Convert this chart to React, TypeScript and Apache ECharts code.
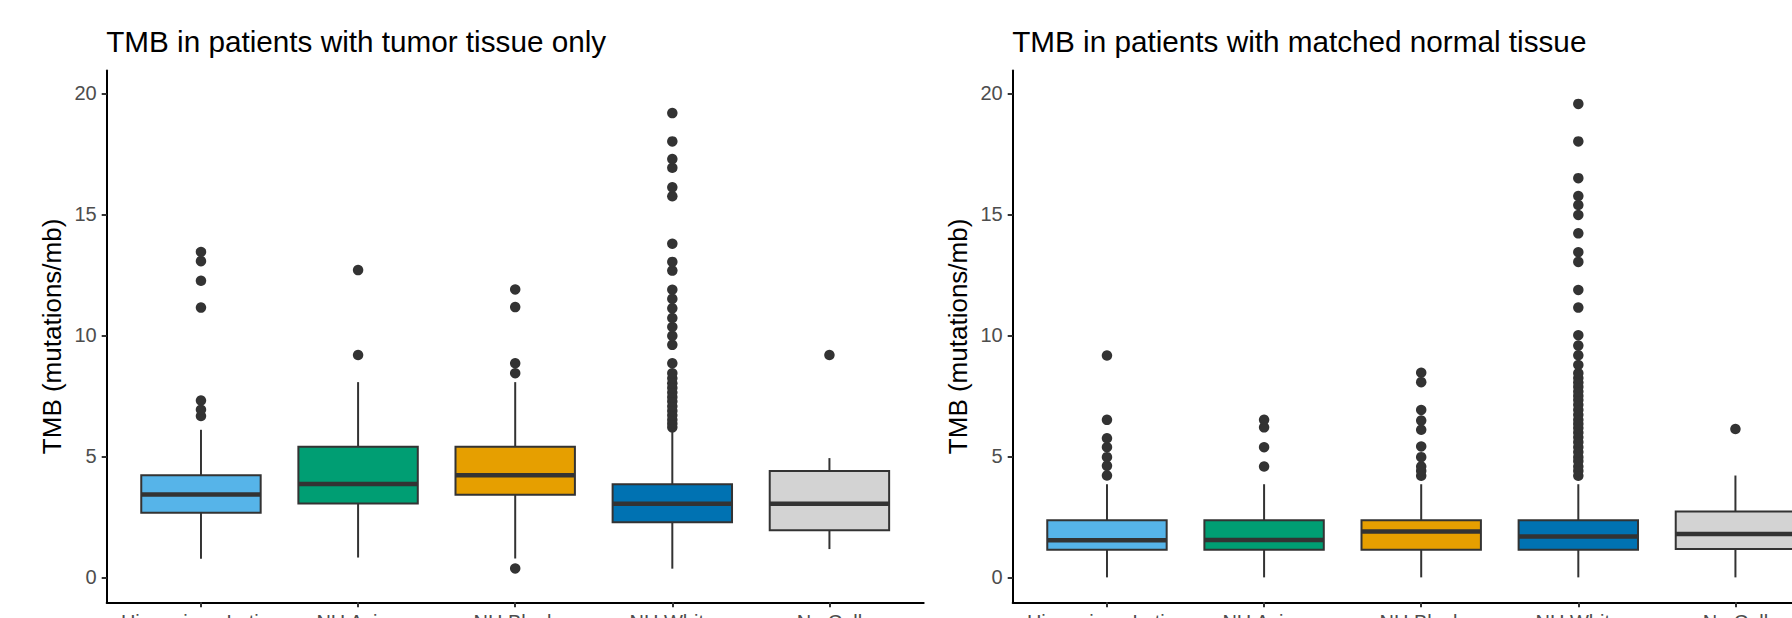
import React, { useEffect, useRef } from "react";
import * as echarts from "echarts";

const categories = ["Hispanic or Latino", "NH Asian", "NH Black", "NH White", "No Coll"];
const fillColors = ["#56B4E9", "#009E73", "#E69F00", "#0072B2", "#D3D3D3"];
const yTicks = [0, 5, 10, 15, 20];
const xTicks = [1, 2, 3, 4, 5];
const panelTitles = ["TMB in patients with tumor tissue only", "TMB in patients with matched normal tissue"];
const yTitle = "TMB (mutations/mb)";

// [lower whisker, q1, median, q3, upper whisker]
const tumorBoxes = [
  [0.77, 2.67, 3.43, 4.22, 6.1],
  [0.82, 3.05, 3.86, 5.4, 8.07],
  [0.78, 3.42, 4.22, 5.4, 8.07],
  [0.36, 2.28, 3.04, 3.85, 6.02],
  [1.17, 1.95, 3.04, 4.4, 4.93],
];
const tumorHispanicOut = [6.67, 6.93, 7.31, 11.15, 12.26, 13.07, 13.45];
const tumorAsianOut = [9.19, 12.7];
const tumorBlackOut = [0.37, 8.44, 8.85, 11.17, 11.9];
const tumorWhiteOut = [6.2, 6.35, 6.51, 6.7, 6.88, 7.07, 7.27, 7.45, 7.64, 7.83, 8.02, 8.23, 8.44, 8.85, 9.61, 9.98, 10.35, 10.72, 11.12, 11.51, 11.89, 12.68, 13.04, 13.79, 15.75, 16.12, 16.93, 17.29, 18.02, 19.19];
const tumorNotCollOut = [9.19];

const normalBoxes = [
  [0, 1.14, 1.53, 2.36, 3.85],
  [0, 1.14, 1.54, 2.36, 3.85],
  [0, 1.14, 1.9, 2.36, 3.85],
  [0, 1.14, 1.69, 2.36, 3.85],
  [0, 1.17, 1.79, 2.72, 4.21],
];
const normalHispanicOut = [4.21, 4.61, 4.97, 5.38, 5.75, 6.51, 9.17];
const normalAsianOut = [4.58, 5.38, 6.2, 6.51];
const normalBlackOut = [4.2, 4.4, 4.58, 4.97, 5.41, 6.1, 6.48, 6.92, 8.07, 8.46];
const normalWhiteOut = [4.2, 4.4, 4.58, 4.8, 4.97, 5.18, 5.38, 5.59, 5.79, 5.98, 6.17, 6.34, 6.51, 6.72, 6.92, 7.13, 7.33, 7.5, 7.68, 7.87, 8.05, 8.24, 8.44, 8.78, 9.18, 9.58, 10.01, 11.15, 11.88, 13.04, 13.44, 14.22, 14.98, 15.39, 15.76, 16.5, 18.02, 19.57];
const normalNotCollOut = [6.13];

const tumorOutliers = [tumorHispanicOut, tumorAsianOut, tumorBlackOut, tumorWhiteOut, tumorNotCollOut];
const normalOutliers = [normalHispanicOut, normalAsianOut, normalBlackOut, normalWhiteOut, normalNotCollOut];

const FONT = "Liberation Sans, Arial, Helvetica, sans-serif";
const DARK = "#333333";

function buildPanel(idx: number, boxes: number[][], outliers: number[][]) {
  const boxSeries = {
    type: "custom",
    xAxisIndex: idx,
    yAxisIndex: idx,
    encode: { x: 0, y: [1, 2, 3, 4, 5] },
    data: boxes.map((b, i) => [i + 1, ...b]),
    renderItem: (params: any, api: any) => {
      const x = api.value(0);
      const lo = api.coord([x, api.value(1)]);
      const q1 = api.coord([x, api.value(2)]);
      const med = api.coord([x, api.value(3)]);
      const q3 = api.coord([x, api.value(4)]);
      const hi = api.coord([x, api.value(5)]);
      const w = api.size([0.76, 0])[0];
      const cx = lo[0];
      const line = { stroke: DARK, lineWidth: 2 };
      return {
        type: "group",
        children: [
          { type: "line", shape: { x1: cx, y1: hi[1], x2: cx, y2: q3[1] }, style: line },
          { type: "line", shape: { x1: cx, y1: q1[1], x2: cx, y2: lo[1] }, style: line },
          {
            type: "rect",
            shape: { x: cx - w / 2, y: q3[1], width: w, height: q1[1] - q3[1] },
            style: { fill: fillColors[params.dataIndex], stroke: DARK, lineWidth: 2 },
          },
          { type: "line", shape: { x1: cx - w / 2, y1: med[1], x2: cx + w / 2, y2: med[1] }, style: { stroke: DARK, lineWidth: 4.5 } },
        ],
      };
    },
    z: 2,
  };
  const pts: number[][] = [];
  outliers.forEach((arr, i) => arr.forEach((v) => pts.push([i + 1, v])));
  const scatter = {
    type: "scatter",
    xAxisIndex: idx,
    yAxisIndex: idx,
    data: pts,
    symbol: "circle",
    symbolSize: 10.5,
    itemStyle: { color: DARK, opacity: 1 },
    z: 3,
  };
  return [boxSeries, scatter];
}

export default function App() {
  const ref = useRef<HTMLDivElement>(null);
  useEffect(() => {
    if (!ref.current) return;
    const chart = echarts.init(ref.current, undefined, { renderer: "svg" });
    const gridLefts = [106.7, 1012.7];
    const xAxes = gridLefts.map((_, i) => ({
      type: "value",
      gridIndex: i,
      min: 0.4,
      max: 5.6,
      axisLine: { show: true, onZero: false, lineStyle: { color: "#000000", width: 2 } },
      axisTick: { show: true, customValues: xTicks, length: 5, lineStyle: { color: DARK, width: 2 } },
      axisLabel: {
        show: true,
        customValues: xTicks,
        formatter: (v: number) => categories[Math.round(v) - 1] ?? "",
        color: "#4D4D4D",
        fontSize: 20,
        fontFamily: FONT,
        margin: 10,
        hideOverlap: false,
      },
      splitLine: { show: false },
    }));
    const yAxes = gridLefts.map((_, i) => ({
      type: "value",
      gridIndex: i,
      min: -1.03,
      max: 20.95,
      axisLine: { show: true, onZero: false, lineStyle: { color: "#000000", width: 2 } },
      axisTick: { show: true, customValues: yTicks, length: 5, lineStyle: { color: DARK, width: 2 } },
      axisLabel: {
        show: true,
        customValues: yTicks,
        color: "#4D4D4D",
        fontSize: 20,
        fontFamily: FONT,
        margin: 10,
      },
      splitLine: { show: false },
      name: yTitle,
      nameLocation: "middle",
      nameGap: 42,
      nameTextStyle: { fontSize: 26, color: "#000000", fontFamily: FONT },
    }));
    chart.setOption({
      animation: false,
      backgroundColor: "#ffffff",
      title: panelTitles.map((t, i) => ({
        text: t,
        left: gridLefts[i] - 0.5,
        top: 26,
        padding: 0,
        textStyle: { fontSize: 29.7, fontWeight: "normal", color: "#000000", fontFamily: FONT },
      })),
      grid: gridLefts.map((l) => ({
        left: l,
        top: 70.5,
        width: 817,
        height: 531.8,
        containLabel: false,
        outerBoundsMode: "none",
      })),
      xAxis: xAxes,
      yAxis: yAxes,
      series: [...buildPanel(0, tumorBoxes, tumorOutliers), ...buildPanel(1, normalBoxes, normalOutliers)],
    });
    return () => chart.dispose();
  }, []);
  return <div ref={ref} style={{ position: "absolute", left: 0, top: 0, width: 1792, height: 618 }} />;
}
